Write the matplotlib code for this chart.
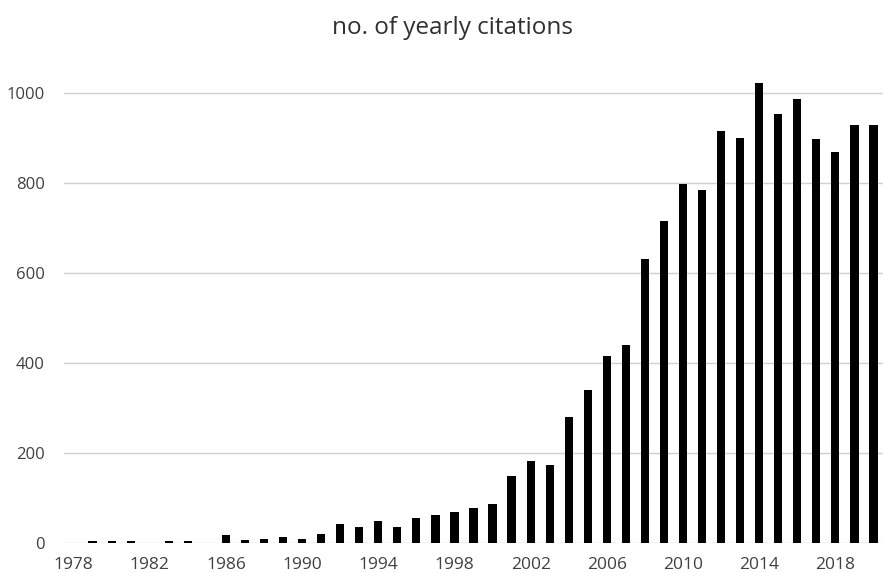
import matplotlib
matplotlib.use("Agg")
import matplotlib.pyplot as plt
import numpy as np

years = list(range(1978, 2021))
citations = [0, 4, 4, 4, 0, 4, 4, 0, 18, 7, 10, 13, 10, 21,
             42, 35, 49, 35, 56, 62, 68, 78, 86, 148, 183, 173, 279,
             340, 415, 440, 632, 715, 798, 784, 915, 901, 1022, 953,
             987, 898, 870, 928, 928]
tick_years = list(range(1978, 2021, 4))
y_ticks = [0, 200, 400, 600, 800, 1000]
title = "no. of yearly citations"

plt.rcParams['font.family'] = ['Open Sans', 'DejaVu Sans']
fig = plt.figure(figsize=(8.83, 5.73), dpi=100)
ax = fig.add_axes([64/883, 30/573, 819/883, (573-30-48)/573])

x = np.arange(len(years))
ax.bar(x, citations, width=0.43, color='black', zorder=3)
ax.set_xlim(-0.5, len(years) - 0.5)
ax.set_ylim(0, 1100)
ax.set_yticks(y_ticks)
ax.set_yticklabels([str(v) for v in y_ticks], fontsize=12, color='#404040')
idx = [years.index(y) for y in tick_years]
ax.set_xticks(idx)
ax.set_xticklabels([str(y) for y in tick_years], fontsize=12.5, color='#404040')
ax.tick_params(length=0, axis='both')
ax.tick_params(axis='y', pad=14)
ax.tick_params(axis='x', pad=10)
for s in ax.spines.values():
    s.set_visible(False)
ax.grid(axis='y', color='#d0d0d0', linewidth=1, zorder=0)
fig.text(453/883, 1 - 28/573, title, ha='center', va='center', fontsize=17.5, color='#303030')
fig.savefig('out.png', dpi=100)
